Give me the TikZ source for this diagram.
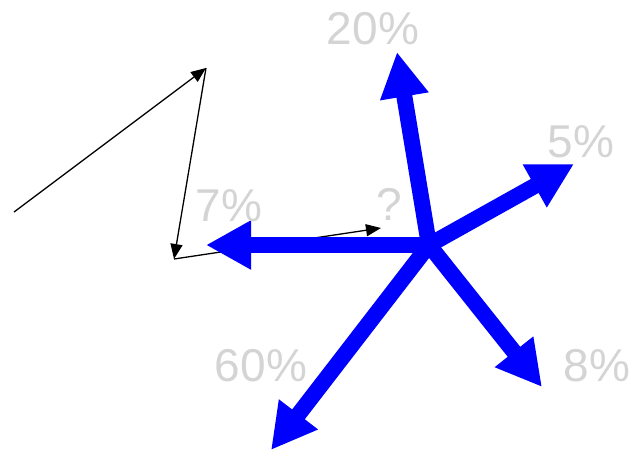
\documentclass[tikz,border=0pt]{standalone}
\usepackage{fontspec}
\setmainfont{Liberation Sans}
\usetikzlibrary{arrows.meta}
\definecolor{PctGray}{HTML}{D4D4D4}
\definecolor{StarBlue}{HTML}{0000FF}

\begin{document}
\begin{tikzpicture}[x=1pt, y=-1pt,
        bluearrow/.style={StarBlue, line width=16pt, -{Triangle[length=45pt, width=46pt]}},
        blackarrow/.style={black, line width=1.3pt, -{Triangle[length=15pt, width=12pt]}},
        pct/.style={PctGray, font=\fontsize{46}{46}\selectfont, inner sep=0pt, text height=33pt, text depth=0pt}]
        \useasboundingbox (0,0) rectangle (633,451);
        % black path
        \coordinate (p0) at (14,212);
        \coordinate (p1) at (206,68);
        \coordinate (p2) at (174,259);
        \coordinate (p3) at (381,228);
        \draw[blackarrow] (p0) -- (p1);
        \draw[blackarrow] (p1) -- (p2);
        \draw[blackarrow] (p2) -- (p3);
        % blue star
        \coordinate (hub) at (429,245);
        \coordinate (tUp) at (397,52);
        \coordinate (tRight) at (574,164);
        \coordinate (tDown) at (542,387);
        \coordinate (tLow) at (271,450);
        \coordinate (tLeft) at (206,245);
        \draw[bluearrow] (hub) -- (tUp);
        \draw[bluearrow] (hub) -- (tRight);
        \draw[bluearrow] (hub) -- (tDown);
        \draw[bluearrow] (hub) -- (tLow);
        \draw[bluearrow] (hub) -- (tLeft);
        % labels
        \node[pct] (lUp) at (373,28) {20\%};
        \node[pct] (lRight) at (581,141) {5\%};
        \node[pct] (lQ) at (389,204) {?};
        \node[pct] (lLeft) at (229,205) {7\%};
        \node[pct] (lLow) at (261,365) {60\%};
        \node[pct] (lDown) at (597,365) {8\%};
    \end{tikzpicture}
\end{document}
